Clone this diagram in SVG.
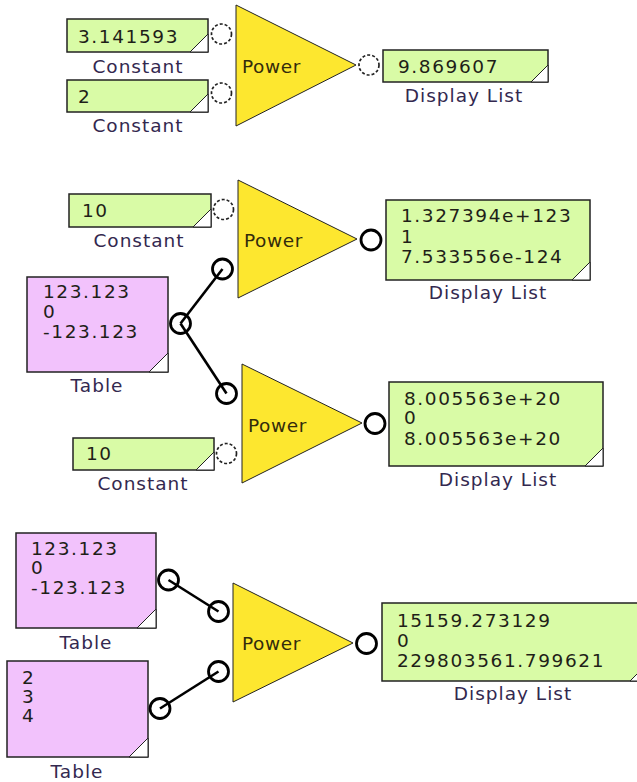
<svg xmlns="http://www.w3.org/2000/svg" width="637" height="782" viewBox="0 0 637 782">
<style>
.g{fill:#d9fba6;stroke:#222;stroke-width:1.5}
.t{fill:#f2c2fc;stroke:#222;stroke-width:1.5}
.tri{fill:#fde72f;stroke:#222;stroke-width:1}
.ear{fill:#fff;stroke:#222;stroke-width:1}
.po{fill:#fff;stroke:#222;stroke-width:1.7;stroke-dasharray:3 2}
.pc{fill:#fff;stroke:#000;stroke-width:2.8}
.conn{stroke:#000;stroke-width:2.6;fill:none}
.val{font-family:"DejaVu Sans",Verdana,sans-serif;font-size:18.5px;letter-spacing:1.6px;fill:#1f1f18}
.lbl{font-family:"DejaVu Sans",Verdana,sans-serif;font-size:18.5px;letter-spacing:1px;fill:#33284f;text-anchor:middle}
.pw{font-family:"DejaVu Sans",Verdana,sans-serif;font-size:18.5px;letter-spacing:0.6px;fill:#332c0c}
</style>

<!-- Section 1 -->
<g id="const1">
<rect class="g" x="67" y="19" width="141" height="33"/>
<polygon class="ear" points="190,52 208,34 208,52"/>
<text class="val" x="78" y="43">3.141593</text>
<text class="lbl" x="138" y="73">Constant</text>
</g>
<g id="const2">
<rect class="g" x="67" y="80" width="141" height="32"/>
<polygon class="ear" points="190,112 208,94 208,112"/>
<text class="val" x="78" y="103">2</text>
<text class="lbl" x="138" y="132">Constant</text>
</g>
<g id="power1">
<polygon class="tri" points="236,5 236,126 356,65"/>
<text class="pw" x="242" y="73">Power</text>
<circle class="po" cx="221.5" cy="34" r="10"/>
<circle class="po" cx="221.5" cy="93" r="10"/>
</g>
<g id="display1">
<rect class="g" x="383" y="50" width="165" height="32"/>
<polygon class="ear" points="531,82 548,65 548,82"/>
<text class="val" x="398" y="73">9.869607</text>
<text class="lbl" x="464" y="102">Display List</text>
<circle class="po" cx="369" cy="65" r="10"/>
</g>

<!-- Section 2 -->
<g id="const3">
<rect class="g" x="69" y="194" width="142" height="33"/>
<polygon class="ear" points="193,227 211,209 211,227"/>
<text class="val" x="82" y="217">10</text>
<text class="lbl" x="139" y="247">Constant</text>
</g>
<g id="table1">
<rect class="t" x="27" y="277" width="141" height="95"/>
<polygon class="ear" points="149,372 168,353 168,372"/>
<text class="val" x="43" y="298">123.123</text>
<text class="val" x="43" y="318">0</text>
<text class="val" x="43" y="338">-123.123</text>
<text class="lbl" x="97" y="392">Table</text>
<circle class="pc" cx="180.5" cy="323.5" r="10"/>
</g>
<g id="power2">
<polygon class="tri" points="238,180 238,298 357,239"/>
<text class="pw" x="244" y="247">Power</text>
<circle class="po" cx="223.5" cy="209.5" r="10"/>
<circle class="pc" cx="222.5" cy="269" r="10"/>
</g>
<g id="display2">
<rect class="g" x="386" y="200" width="204" height="80"/>
<polygon class="ear" points="572,280 590,262 590,280"/>
<text class="val" x="401" y="222">1.327394e+123</text>
<text class="val" x="401" y="243">1</text>
<text class="val" x="401" y="263">7.533556e-124</text>
<text class="lbl" x="488" y="299">Display List</text>
<circle class="pc" cx="371" cy="240" r="10"/>
</g>
<g id="power3">
<polygon class="tri" points="242,364 242,483 362,423"/>
<text class="pw" x="248" y="432">Power</text>
<circle class="pc" cx="226.5" cy="393.5" r="10"/>
<circle class="po" cx="226.5" cy="453.5" r="10"/>
</g>
<g id="const4">
<rect class="g" x="73" y="438" width="141" height="32"/>
<polygon class="ear" points="196,470 214,452 214,470"/>
<text class="val" x="86" y="460">10</text>
<text class="lbl" x="143" y="490">Constant</text>
</g>
<g id="display3">
<rect class="g" x="389" y="382" width="214" height="84"/>
<polygon class="ear" points="585,466 603,448 603,466"/>
<text class="val" x="404" y="405">8.005563e+20</text>
<text class="val" x="404" y="424">0</text>
<text class="val" x="404" y="445">8.005563e+20</text>
<text class="lbl" x="498" y="486">Display List</text>
<circle class="pc" cx="375" cy="423.5" r="10"/>
</g>

<!-- Section 3 -->
<g id="table2">
<rect class="t" x="16" y="533" width="140" height="95"/>
<polygon class="ear" points="137,628 156,609 156,628"/>
<text class="val" x="31" y="555">123.123</text>
<text class="val" x="31" y="574">0</text>
<text class="val" x="31" y="594">-123.123</text>
<text class="lbl" x="86" y="649">Table</text>
<circle class="pc" cx="168.5" cy="580" r="10"/>
</g>
<g id="table3">
<rect class="t" x="7" y="661" width="141" height="96"/>
<polygon class="ear" points="129,757 148,738 148,757"/>
<text class="val" x="22" y="684">2</text>
<text class="val" x="22" y="703">3</text>
<text class="val" x="22" y="722">4</text>
<text class="lbl" x="77" y="778">Table</text>
<circle class="pc" cx="160" cy="708.5" r="10"/>
</g>
<g id="power4">
<polygon class="tri" points="233,583 233,702 353,643"/>
<text class="pw" x="242" y="650">Power</text>
<circle class="pc" cx="218.5" cy="611.5" r="10"/>
<circle class="pc" cx="218.5" cy="671.5" r="10"/>
</g>
<g id="display4">
<rect class="g" x="382" y="603" width="266" height="78"/>
<polygon class="ear" points="630,681 648,663 648,681"/>
<text class="val" x="397" y="627">15159.273129</text>
<text class="val" x="397" y="647">0</text>
<text class="val" x="397" y="667">229803561.799621</text>
<text class="lbl" x="513" y="700">Display List</text>
<circle class="pc" cx="366.5" cy="643.5" r="10"/>
</g>

<g id="connectors">
<line class="conn" x1="180.5" y1="323.5" x2="222.5" y2="269"/>
<line class="conn" x1="180.5" y1="323.5" x2="226.5" y2="393.5"/>
<line class="conn" x1="168.5" y1="580" x2="218.5" y2="611.5"/>
<line class="conn" x1="160" y1="708.5" x2="218.5" y2="671.5"/>
</g>
</svg>
